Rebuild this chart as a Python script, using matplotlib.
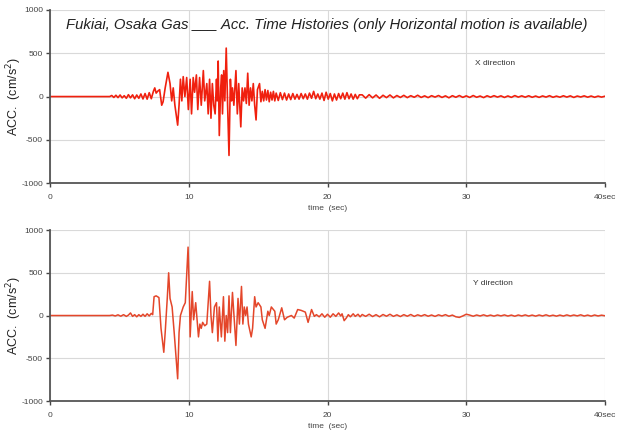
import numpy as np
import matplotlib
matplotlib.use("Agg")
import matplotlib.pyplot as plt

x_strong = [
    (0, 0), (4.3, 0), (4.45, 12), (4.6, -10), (4.75, 15), (4.9, -12), (5.05, 18), (5.2, -15),
    (5.35, 10), (5.5, -20), (5.65, 22), (5.8, -15), (5.95, 20), (6.1, -25), (6.25, 18),
    (6.4, -20), (6.55, 30), (6.7, -28), (6.85, 35), (7.0, -30), (7.15, 45), (7.3, -25),
    (7.45, 60), (7.55, 100), (7.65, 40), (7.75, 60), (7.9, 80), (8.05, -100), (8.15, -60),
    (8.3, 100), (8.5, 280), (8.65, 150), (8.77, -50), (8.88, 100), (9.0, -100), (9.2, -330),
    (9.3, -100), (9.4, 200), (9.5, -50), (9.6, 230), (9.72, 0), (9.85, 220), (9.97, -150),
    (10.1, 200), (10.2, -200), (10.32, 220), (10.42, 50), (10.55, 250), (10.65, -150),
    (10.78, 220), (10.9, -100), (11.05, 300), (11.15, -50), (11.3, 150), (11.4, -200),
    (11.5, 200), (11.6, -250), (11.7, 150), (11.8, -100), (11.9, -200), (12.0, 200),
    (12.05, -50), (12.12, 410), (12.2, -450), (12.3, 100), (12.37, 250), (12.43, -200),
    (12.52, 300), (12.6, -50), (12.7, 560), (12.8, -100), (12.9, -680), (13.0, 200),
    (13.08, -50), (13.15, 100), (13.25, -100), (13.4, 300), (13.5, -200), (13.6, 150),
    (13.75, -350), (13.85, 100), (13.95, -50), (14.05, 100), (14.15, -80), (14.25, 270),
    (14.35, -100), (14.45, 100), (14.55, -50), (14.65, 150), (14.75, -100), (14.85, -270),
    (14.95, 80), (15.1, 150), (15.2, -60), (15.3, 60), (15.4, -50), (15.5, 80), (15.6, -40),
    (15.7, 70), (15.8, -60), (15.9, 50), (16.0, -40), (16.1, 60), (16.2, -50), (16.3, 40),
    (16.45, -45), (16.6, 45), (16.75, -35), (16.9, 40), (17.05, -40), (17.2, 30),
    (17.35, -35), (17.5, 35), (17.65, -30), (17.8, 25), (17.95, -30), (18.1, 35),
    (18.25, -25), (18.4, 30), (18.55, -30), (18.7, 40), (18.85, -20), (19.0, 60),
    (19.15, -25), (19.3, 30), (19.45, -30), (19.6, 40), (19.75, -45), (19.9, 50),
    (20.05, -30), (20.2, 35), (20.35, -50), (20.5, 30), (20.65, -40), (20.8, 35),
    (20.95, -25), (21.1, 40), (21.25, -30), (21.4, 45), (21.55, -25), (21.7, 30),
    (21.85, -30), (22.0, 25), (22.15, -25), (22.3, 20),
]
# X direction tail, one reading every 0.25 s from 22.5 s to 40 s
x_tail = [
    20, -18, 22, -15, 18, -20, 15, -12, 18, -15, 12,
    -10, 14, -12, 10, -8, 15, -10, 8, -12, 10, -6, 12, -10, 8, -14, 10, -8, 12, -9,
    8, -10, 12, -8, 6, -12, 9, -7, 10, -6, 8, -10, 7, -9, 11, -6, 8, -7, 9,
    -8, 6, -9, 7, -6, 10, -8, 5, -7, 9, -6, 8, -10, 6, -5, 8, -7, 6, -8, 5, -6, 4,
]

# Y direction
y_strong = [
    (0, 0), (4.3, 0), (4.5, 5), (4.7, -5), (4.9, 8), (5.1, -8), (5.3, 10), (5.5, -10),
    (5.65, 5), (5.8, 30), (5.95, -10), (6.1, 10), (6.25, -15), (6.4, 10), (6.55, -10),
    (6.7, 15), (6.85, -10), (7.0, 20), (7.15, -5), (7.3, 25), (7.4, 10), (7.5, 220),
    (7.65, 230), (7.85, 210), (8.0, -150), (8.2, -430), (8.3, -200), (8.45, 200),
    (8.55, 500), (8.65, 200), (8.8, 100), (8.95, -200), (9.2, -740), (9.3, -200), (9.4, 0),
    (9.5, 50), (9.6, 100), (9.75, 150), (9.95, 800), (10.05, 200), (10.1, -250),
    (10.25, 280), (10.35, -50), (10.5, 150), (10.7, -250), (10.8, -100), (10.9, -150),
    (11.0, -80), (11.15, -120), (11.3, -100), (11.5, 400), (11.6, 0), (11.7, -200),
    (11.85, 100), (12.0, 150), (12.1, -300), (12.2, 100), (12.35, -250), (12.5, 220),
    (12.6, -300), (12.7, 0), (12.8, -200), (12.9, 230), (13.0, -200), (13.15, 270),
    (13.4, -350), (13.55, 200), (13.65, -100), (13.8, 340), (13.9, -100), (14.0, 100),
    (14.1, 0), (14.2, 100), (14.3, -100), (14.5, -250), (14.6, -150), (14.75, 220),
    (14.85, 100), (15.0, 150), (15.2, 100), (15.3, -50), (15.5, -150), (15.7, 50),
    (15.8, 0), (15.95, 100), (16.2, 50), (16.3, -100), (16.45, -50), (16.7, 90),
    (16.9, -50), (17.1, -20), (17.4, 0), (17.6, -30), (17.85, 70), (18.1, 60), (18.4, 40),
    (18.6, -80), (18.85, 70), (19.05, -10), (19.2, 10), (19.4, -15), (19.6, 20),
    (19.8, -20), (20.0, 15), (20.2, -20), (20.4, 20), (20.6, -10), (20.8, 30), (20.95, -5),
    (21.05, 20), (21.2, -60), (21.35, -30), (21.5, 10), (21.65, -15), (21.85, 20),
    (22.0, -10), (22.2, 15), (22.35, -15),
]
y_tail = [
    12, -10, 15, -12, 10, -15, 12, -8, 15, -10, 8,
    -12, 10, -8, 12, -10, 8, -6, 10, -8, 6, -10, 8, -5, 10, -8, 5, -15, -22, -5,
    15, 5, -8, 6, -5, 8, -6, 5, -7, 6, -4, 7, -6, 5, -8, 6, -5, 7, -6,
    5, -7, 6, -5, 8, -6, 4, -7, 5, -6, 7, -5, 6, -4, 8, -6, 5, -7, 6, -5, 4, -3,
]

title = "Fukiai, Osaka Gas ___ Acc. Time Histories (only Horizontal motion is available)"
x_ticks = [0, 10, 20, 30, 40]
x_labels = ["0", "10", "20", "30", "40sec"]
y_ticks = [-1000, -500, 0, 500, 1000]
y_labels = ["-1000", "-500", "0", "500", "1000"]


def series(strong, tail):
    t = [p[0] for p in strong]
    a = [p[1] for p in strong]
    t_tail = np.linspace(22.5, 40, len(tail))
    return np.concatenate([t, t_tail]), np.concatenate([a, tail])


def style_axes(ax):
    ax.set_xlim(0, 40)
    ax.set_ylim(-1000, 1000)
    ax.set_xticks(x_ticks)
    ax.set_xticklabels(x_labels)
    ax.set_yticks(y_ticks)
    ax.set_yticklabels(y_labels)
    ax.grid(True, color="#d9d9d9", linewidth=0.8)
    ax.set_axisbelow(True)
    for side in ["top", "right"]:
        ax.spines[side].set_visible(False)
    for side in ["left", "bottom"]:
        ax.spines[side].set_color("#555555")
        ax.spines[side].set_linewidth(1.3)
    ax.tick_params(labelsize=6, colors="#444444", length=3, width=1, pad=2)
    ax.tick_params(axis="x", pad=5)
    ax.set_xlabel("time  (sec)", fontsize=6, color="#444444", labelpad=3)
    ax.set_ylabel("ACC.  (cm/s$^2$)", fontsize=9, color="#222222")
    ax.yaxis.set_label_coords(-0.047, 0.5)


plt.rcParams["font.family"] = ["Liberation Sans", "DejaVu Sans"]
fig = plt.figure(figsize=(6.19, 4.34), dpi=100)

ax1 = fig.add_axes([0.0808, 0.578, 0.8966, 0.399])
t, a = series(x_strong, x_tail)
ax1.plot(t, a, color="#f0200e", linewidth=1.2)
style_axes(ax1)
ax1.text(1.15, 830, title, fontsize=10.7, style="italic", color="#222222", va="center")
ax1.text(30.6, 380, "X direction", fontsize=6, color="#333333", va="center")

ax2 = fig.add_axes([0.0808, 0.076, 0.8966, 0.394])
t, a = series(y_strong, y_tail)
ax2.plot(t, a, color="#e4462a", linewidth=1.1)
style_axes(ax2)
ax2.text(30.5, 375, "Y direction", fontsize=6, color="#333333", va="center")

fig.savefig("out.png", dpi=100)
